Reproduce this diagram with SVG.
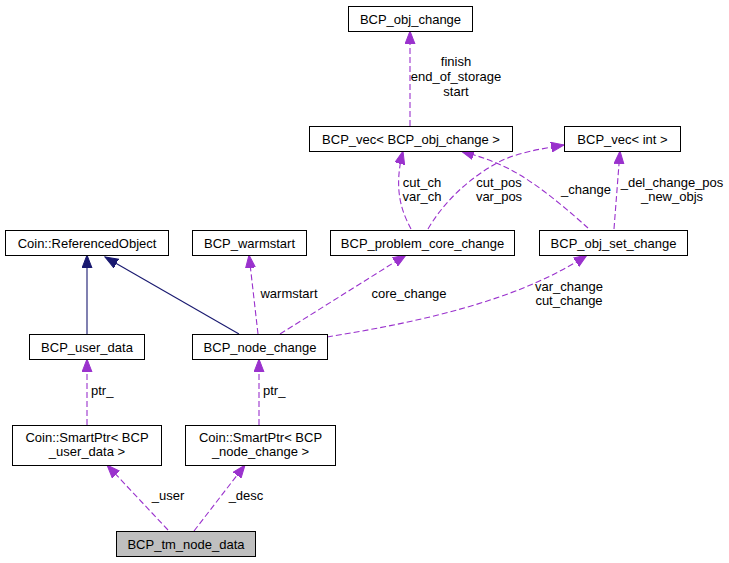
<svg xmlns="http://www.w3.org/2000/svg" width="729" height="563" viewBox="0 0 729 563">
<style>
.n rect{fill:#fff;stroke:#000;stroke-width:1}
.n.g rect{fill:#bfbfbf}
text{font-family:"Liberation Sans",Arial,sans-serif;font-size:13px;fill:#000}
.c{text-anchor:middle}
.e path{fill:none;stroke-width:1.1}
.d{stroke:#9a32cd;stroke-dasharray:6,3;marker-end:url(#ap)}
.s{stroke:#191970;marker-end:url(#an)}
</style>
<defs>
<marker id="ap" markerUnits="userSpaceOnUse" markerWidth="14" markerHeight="11" refX="13" refY="5" orient="auto" viewBox="0 0 14 10">
<path d="M0,0 L13,5 L0,10 z" fill="#9a32cd" stroke="#9a32cd" stroke-width="1"/>
</marker>
<marker id="an" markerUnits="userSpaceOnUse" markerWidth="14" markerHeight="11" refX="13" refY="5" orient="auto" viewBox="0 0 14 10">
<path d="M0,0 L13,5 L0,10 z" fill="#191970" stroke="#191970" stroke-width="1"/>
</marker>
</defs>
<rect width="729" height="563" fill="#fff"/>
<g id="edges" class="e">
<path class="d" d="M410,126 L410,31"/>
<path class="d" d="M411,229 C402,212 393,190 403,151"/>
<path class="d" d="M428,229 C445,200 470,178 497,163 C515,153 540,149 564,145"/>
<path class="d" d="M588,228 C570,212 545,190 520,175 C502,164 482,157 461,151"/>
<path class="d" d="M614,229 L620,151"/>
<path class="s" d="M87,334 L87,255"/>
<path class="s" d="M239,334 L105,257"/>
<path class="d" d="M258,334 L249,255"/>
<path class="d" d="M280,334 L406,255"/>
<path class="d" d="M327,337 C420,322 520,300 587,255"/>
<path class="d" d="M87,425 L87,359"/>
<path class="d" d="M259,425 L259,359"/>
<path class="d" d="M168,530 L107,465"/>
<path class="d" d="M194,531 L245,465"/>
<g id="edge-labels">
<text class="c" x="456" y="66">finish</text>
<text class="c" x="456" y="81">end_of_storage</text>
<text class="c" x="456" y="96">start</text>
<text class="c" x="422" y="187">cut_ch</text>
<text class="c" x="422" y="201">var_ch</text>
<text class="c" x="499" y="187">cut_pos</text>
<text class="c" x="499" y="201">var_pos</text>
<text class="c" x="586" y="194">_change</text>
<text class="c" x="672" y="187">_del_change_pos</text>
<text class="c" x="672" y="201">_new_objs</text>
<text class="c" x="289" y="298">warmstart</text>
<text class="c" x="409" y="298">core_change</text>
<text class="c" x="569" y="291">var_change</text>
<text class="c" x="569" y="305">cut_change</text>
<text x="91" y="395">ptr_</text>
<text x="263" y="395">ptr_</text>
<text class="c" x="168" y="500">_user</text>
<text class="c" x="246" y="500">_desc</text>
</g>
</g>
<g id="BCP_obj_change" class="n"><rect x="348.5" y="6.5" width="124" height="25"/><text class="c" x="410.5" y="23.5">BCP_obj_change</text></g>
<g id="BCP_vec_obj_change" class="n"><rect x="309.5" y="126.5" width="203" height="25"/><text class="c" x="411" y="143.5">BCP_vec&lt; BCP_obj_change &gt;</text></g>
<g id="BCP_vec_int" class="n"><rect x="564.5" y="126.5" width="116" height="25"/><text class="c" x="622.5" y="143.5">BCP_vec&lt; int &gt;</text></g>
<g id="Coin_ReferencedObject" class="n"><rect x="5.5" y="230.5" width="163" height="25"/><text class="c" x="87" y="247.5">Coin::ReferencedObject</text></g>
<g id="BCP_warmstart" class="n"><rect x="192.5" y="230.5" width="114" height="25"/><text class="c" x="249.5" y="247.5">BCP_warmstart</text></g>
<g id="BCP_problem_core_change" class="n"><rect x="330.5" y="230.5" width="184" height="25"/><text class="c" x="422.5" y="247.5">BCP_problem_core_change</text></g>
<g id="BCP_obj_set_change" class="n"><rect x="539.5" y="230.5" width="148" height="25"/><text class="c" x="613.5" y="247.5">BCP_obj_set_change</text></g>
<g id="BCP_user_data" class="n"><rect x="29.5" y="334.5" width="115" height="25"/><text class="c" x="87" y="351.5">BCP_user_data</text></g>
<g id="BCP_node_change" class="n"><rect x="192.5" y="334.5" width="135" height="25"/><text class="c" x="260" y="351.5">BCP_node_change</text></g>
<g id="SmartPtr_user_data" class="n"><rect x="12.5" y="425.5" width="149" height="40"/><text class="c" x="87" y="442">Coin::SmartPtr&lt; BCP</text><text class="c" x="87" y="456">_user_data &gt;</text></g>
<g id="SmartPtr_node_change" class="n"><rect x="185.5" y="425.5" width="150" height="40"/><text class="c" x="260.5" y="442">Coin::SmartPtr&lt; BCP</text><text class="c" x="260.5" y="456">_node_change &gt;</text></g>
<g id="BCP_tm_node_data" class="n g"><rect x="116.5" y="531.5" width="139" height="25"/><text class="c" x="186" y="548.5">BCP_tm_node_data</text></g>
</svg>
